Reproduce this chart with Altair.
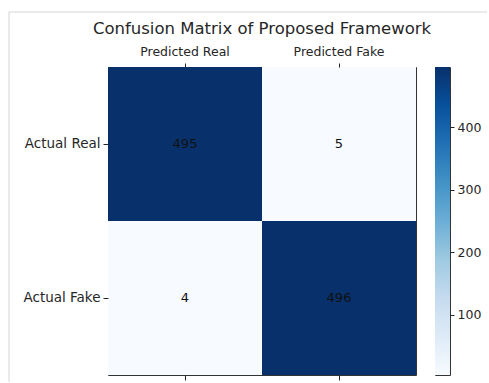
import altair as alt
import pandas as pd

# Confusion matrix counts, row = actual class, column = predicted class
actual = ["Actual Real", "Actual Real", "Actual Fake", "Actual Fake"]
predicted = ["Predicted Real", "Predicted Fake", "Predicted Real", "Predicted Fake"]
counts = [495, 5, 4, 496]

row_order = ["Actual Real", "Actual Fake"]
col_order = ["Predicted Real", "Predicted Fake"]
cbar_ticks = [100, 200, 300, 400]

# Matplotlib-style "Blues" colour ramp
blues = ["#f7fbff", "#deebf7", "#c6dbef", "#9ecae1", "#6baed6",
         "#4292c6", "#2171b5", "#08519c", "#08306b"]

title_text = "Confusion Matrix of Proposed Framework"

df = pd.DataFrame({"actual": actual, "predicted": predicted, "count": counts})
lo, hi = min(counts), max(counts)

FONT = "DejaVu Sans"
INK = "#262626"
FRAME = "#d6d6d6"
SIDE = 308
CBAR_W = 15
GAP = 19

band = alt.Scale(paddingInner=0, paddingOuter=0)

y_enc = alt.Y(
    "actual:N", sort=row_order, title=None, scale=band,
    axis=alt.Axis(orient="left", domain=False, tickSize=5, tickColor=INK,
                  labelPadding=3, labelFontSize=13.5, labelFont=FONT,
                  labelColor=INK, labelAngle=0),
)

cells = alt.Chart(df).mark_rect().encode(
    x=alt.X("predicted:N", sort=col_order, title=None, scale=band,
            axis=alt.Axis(orient="top", domain=False, tickSize=4,
                          tickColor=INK, labelPadding=5, labelFontSize=12.5,
                          labelFont=FONT, labelColor=INK, labelAngle=0)),
    y=y_enc,
    color=alt.Color("count:Q", legend=None,
                    scale=alt.Scale(domain=[lo, hi], range=blues,
                                    interpolate="rgb")),
)

values = alt.Chart(df).mark_text(fontSize=13, font=FONT, color="#111").encode(
    x=alt.X("predicted:N", sort=col_order, title=None, scale=band,
            axis=alt.Axis(orient="bottom", domain=False, labels=False,
                          tickSize=5, tickColor=INK)),
    y=y_enc,
    text="count:Q",
)

heat = (
    alt.layer(cells, values)
    .resolve_axis(x="independent")
    .properties(
        width=SIDE, height=SIDE,
        title=alt.TitleParams(title_text, fontSize=16.5, font=FONT,
                              fontWeight="normal", color=INK,
                              anchor="middle", frame="group", offset=8),
    )
)

# Colour bar: a gradient-filled rect on its own value axis
cbar_df = pd.DataFrame({"lo": [lo], "hi": [hi]})
cbar_body = alt.Chart(cbar_df).mark_rect(
    fill=alt.Gradient(
        gradient="linear", x1=0, y1=1, x2=0, y2=0,
        stops=[alt.GradientStop(color=c, offset=i / (len(blues) - 1))
               for i, c in enumerate(blues)],
    )
).encode(
    y=alt.Y("lo:Q", title=None,
            scale=alt.Scale(domain=[lo, hi], nice=False, zero=False),
            axis=alt.Axis(orient="right", values=cbar_ticks, domain=False,
                          grid=False, tickSize=4, tickColor=INK,
                          labelPadding=3, labelFontSize=12.5, labelFont=FONT,
                          labelColor=INK)),
    y2="hi:Q",
    x=alt.value(0),
    x2=alt.value(CBAR_W),
)

# Thin light-grey page frame along the top and left edges,
# offset from the colour bar's own origin
fx = -(SIDE + GAP + 99)
frame_df = pd.DataFrame({"edge": ["frame"]})
frame_top = alt.Chart(frame_df).mark_rule(color=FRAME, strokeWidth=1).encode(
    x=alt.value(fx), x2=alt.value(52), y=alt.value(-55)
)
frame_left = alt.Chart(frame_df).mark_rule(color=FRAME, strokeWidth=1).encode(
    x=alt.value(fx), y=alt.value(-55), y2=alt.value(315)
)

cbar = alt.layer(cbar_body, frame_top, frame_left).properties(
    width=CBAR_W, height=SIDE
)

chart = (
    alt.hconcat(heat, cbar, spacing=GAP, bounds="flush")
    .properties(padding={"left": 8, "top": 11, "right": 0, "bottom": 0},
                background="white")
    .configure_view(stroke="#333333", strokeWidth=1)
)

chart.save("out.html", embed_options={"renderer": "svg", "actions": False})
